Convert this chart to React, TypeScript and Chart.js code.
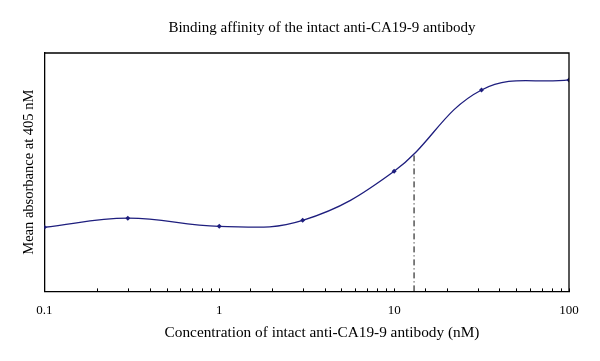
import React, { useEffect, useRef } from "react";
import { Chart, registerables } from "chart.js";

Chart.register(...registerables);

const concentrations = [0.1, 0.3, 1, 3, 10, 31.6, 100];
const absorbance = [0.269, 0.307, 0.273, 0.298, 0.504, 0.845, 0.887];
const kdX = [13, 13];
const kdY = [0, 0.58];
const majorTicks = [0.1, 1, 10, 100];
const chartTitle = "Binding affinity of the intact anti-CA19-9 antibody";
const xTitle = "Concentration of intact anti-CA19-9 antibody (nM)";
const yTitle = "Mean absorbance at 405 nM";

const FONT = "'Liberation Serif', 'Times New Roman', serif";
const NAVY = "#1e1e7e";

const decorations = {
  id: "decorations",
  afterDraw(chart: any) {
    const xs = chart.scales.x;
    const { ctx, chartArea } = chart;
    ctx.save();
    ctx.strokeStyle = "#000";
    ctx.lineWidth = 1;
    ctx.beginPath();
    xs.ticks.forEach((t: any) => {
      const px = Math.round(xs.getPixelForValue(t.value)) + 0.5;
      ctx.moveTo(px, chartArea.bottom);
      ctx.lineTo(px, chartArea.bottom - 3);
    });
    ctx.stroke();
    ctx.lineWidth = 1.3;
    ctx.beginPath();
    ctx.moveTo(chartArea.left, chartArea.top);
    ctx.lineTo(chartArea.right, chartArea.top);
    ctx.lineTo(chartArea.right, chartArea.bottom);
    ctx.stroke();
    ctx.fillStyle = "#000";
    ctx.textAlign = "center";
    ctx.textBaseline = "alphabetic";
    ctx.font = `15px ${FONT}`;
    ctx.fillText(chartTitle, 322, 32);
    ctx.font = `15.3px ${FONT}`;
    ctx.fillText(xTitle, 322, 337);
    ctx.restore();
  },
};

export default function App() {
  const ref = useRef<HTMLCanvasElement>(null);
  useEffect(() => {
    document.body.style.margin = "0";
    const chart = new Chart(ref.current as HTMLCanvasElement, {
      type: "line",
      data: {
        datasets: [
          {
            data: concentrations.map((c, i) => ({ x: c, y: absorbance[i] })),
            borderColor: NAVY,
            backgroundColor: NAVY,
            borderWidth: 1.3,
            pointStyle: "rectRot",
            pointRadius: 2.5,
            pointBorderWidth: 0,
            tension: 0.4,
            fill: false,
          },
          {
            data: kdX.map((c, i) => ({ x: c, y: kdY[i] })),
            borderColor: "#000",
            borderWidth: 1,
            borderDash: [6, 3, 1, 3],
            pointRadius: 0,
            tension: 0,
            fill: false,
          },
        ],
      },
      options: {
        animation: false,
        responsive: false,
        layout: { padding: { left: 0, right: 31, top: 53, bottom: 32 } },
        plugins: {
          legend: { display: false },
          tooltip: { enabled: false },
          title: { display: false },
        },
        scales: {
          x: {
            type: "logarithmic",
            min: 0.1,
            max: 100,
            grid: { display: false, drawTicks: false },
            border: { display: true, color: "#000", width: 1.3 },
            ticks: {
              autoSkip: false,
              maxRotation: 0,
              padding: 11,
              color: "#000",
              font: { family: FONT, size: 13 },
              callback: (v: any) =>
                majorTicks.includes(Number(v)) ? String(v) : "",
            },
          },
          y: {
            min: 0,
            max: 1,
            grid: { display: false, drawTicks: false },
            border: { display: true, color: "#000", width: 1.3 },
            ticks: { display: false },
            title: {
              display: true,
              text: yTitle,
              color: "#000",
              font: { family: FONT, size: 14.5 },
              padding: { top: 20, bottom: 7 },
            },
          },
        },
      },
      plugins: [decorations],
    });
    return () => chart.destroy();
  }, []);
  return (
    <div style={{ width: 600, height: 361, background: "#fff" }}>
      <canvas ref={ref} width={600} height={361} />
    </div>
  );
}
